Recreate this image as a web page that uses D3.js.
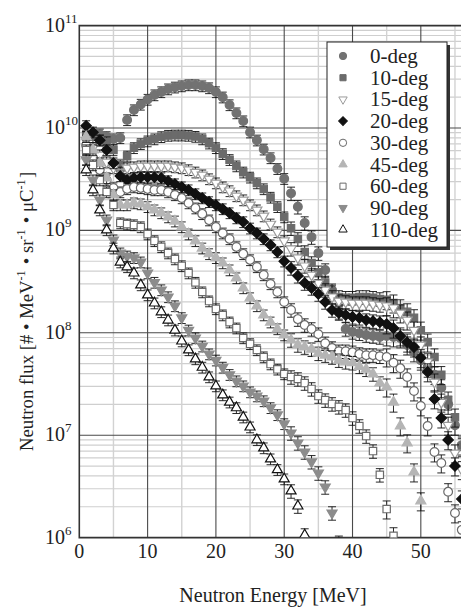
<!DOCTYPE html>
<html>
<head>
<meta charset="utf-8">
<script src="https://cdn.jsdelivr.net/npm/d3@7"></script>
<style>
    body { margin: 0; background: #fff; }
    svg { display: block; }
</style>
</head>
<body>
<div id="chart"></div>
<script>
// neutron energy bins [MeV]
const energy = [1, 2, 3, 4, 5, 6, 7, 8, 9, 10, 11, 12, 13, 14, 15, 16, 17, 18, 19, 20,
    21, 22, 23, 24, 25, 26, 27, 28, 29, 30, 31, 32, 33, 34, 35, 36, 37, 38, 39, 40,
    41, 42, 43, 44, 45, 46, 47, 48, 49, 50, 51, 52, 53, 54, 55, 56];

// flux [# / MeV / sr / uC] (null = no point)
const flux0 = [null, null, 8.7e9, 8.2e9, 7.8e9, 8.0e9, 1.2e10, 1.5e10, 1.7e10, 1.9e10,
    2.1e10, 2.25e10, 2.4e10, 2.5e10, 2.57e10, 2.63e10, 2.63e10, 2.57e10, 2.46e10, 2.25e10,
    2.0e10, 1.68e10, 1.4e10, 1.17e10, 9.1e9, 7.6e9, 6.2e9, 5.1e9, 4.0e9, 3.2e9,
    2.3e9, 1.7e9, 1.18e9, 8.6e8, 6.0e8, 4.1e8, 2.6e8, 1.6e8, 1.09e8, 1.02e8,
    9.9e7, 9.5e7, 9.3e7, 9.1e7, 9.3e7, 9.1e7, 8.9e7, 7.6e7, 6.5e7, 5.4e7,
    4.6e7, 3.9e7, 2.9e7, 2.0e7, 1.25e7, 8.0e6];
const flux10 = [8.5e9, 8.2e9, 7.6e9, 7.3e9, 6.1e9, 4.35e9, 5.3e9, 6.4e9, 7.0e9, 7.45e9,
    7.8e9, 8.2e9, 8.45e9, 8.5e9, 8.5e9, 8.45e9, 8.25e9, 7.8e9, 7.1e9, 6.4e9,
    5.6e9, 4.9e9, 4.25e9, 3.7e9, 3.3e9, 2.9e9, 2.54e9, 2.1e9, 1.7e9, 1.35e9,
    1.05e9, 8.25e8, 6.15e8, 4.8e8, 3.9e8, 3.1e8, 2.5e8, 2.24e8, 2.2e8, 2.2e8,
    2.24e8, 2.24e8, 2.2e8, 2.14e8, 2.1e8, 1.95e8, 1.75e8, 1.6e8, 1.4e8, 1.06e8,
    8.1e7, 5.8e7, 3.9e7, 2.2e7, 1.5e7, 7.7e6];
const flux15 = [7.6e9, 6.4e9, 5.45e9, 4.65e9, 4.07e9, 3.7e9, 4.07e9, 4.16e9, 4.25e9, 4.25e9,
    4.25e9, 4.25e9, 4.25e9, 4.16e9, 4.07e9, 3.9e9, 3.7e9, 3.47e9, 3.18e9, 2.9e9,
    2.65e9, 2.43e9, 2.17e9, 1.98e9, 1.77e9, 1.58e9, 1.38e9, 1.15e9, 9.65e8, 7.9e8,
    6.6e8, 5.4e8, 4.5e8, 3.67e8, 3.06e8, 2.62e8, 2.24e8, 2.04e8, 2.0e8, 1.95e8,
    1.95e8, 1.95e8, 1.91e8, 1.87e8, 1.83e8, 1.75e8, 1.56e8, 1.33e8, 1.06e8, 7.6e7,
    5.2e7, 3.3e7, 2.1e7, 1.25e7, 6.7e6, 4.6e6];
const flux20 = [1.05e10, 9.1e9, 7.6e9, 6.1e9, 4.55e9, 3.4e9, 3.1e9, 3.25e9, 3.3e9, 3.3e9,
    3.3e9, 3.25e9, 3.04e9, 2.84e9, 2.65e9, 2.48e9, 2.27e9, 2.07e9, 1.9e9, 1.77e9,
    1.62e9, 1.48e9, 1.32e9, 1.21e9, 1.05e9, 9.4e8, 8.25e8, 7.2e8, 6.15e8, 5.0e8,
    4.3e8, 3.6e8, 3.06e8, 2.74e8, 2.39e8, 2.0e8, 1.67e8, 1.56e8, 1.49e8, 1.43e8,
    1.4e8, 1.33e8, 1.3e8, 1.27e8, 1.22e8, 1.11e8, 9.3e7, 8.1e7, 7.25e7, 5.7e7,
    4.15e7, 2.26e7, 1.47e7, 9.0e6, 5.0e6, 2.38e6];
const flux30 = [6.8e9, 5.1e9, 3.9e9, 3.1e9, 2.6e9, 2.37e9, 2.54e9, 2.65e9, 2.6e9, 2.54e9,
    2.48e9, 2.48e9, 2.37e9, 2.22e9, 2.07e9, 1.85e9, 1.65e9, 1.45e9, 1.26e9, 1.08e9,
    9.4e8, 8.25e8, 6.9e8, 5.9e8, 5.15e8, 4.4e8, 3.67e8, 3.0e8, 2.5e8, 2.0e8,
    1.67e8, 1.36e8, 1.19e8, 1.09e8, 9.7e7, 7.9e7, 7.1e7, 6.6e7, 6.6e7, 6.45e7,
    6.2e7, 6.05e7, 6.05e7, 5.9e7, 5.8e7, 5.1e7, 4.5e7, 3.7e7, 2.7e7, 1.93e7,
    1.23e7, 6.85e6, 5.35e6, 2.8e6, 1.74e6, 1.19e6];
const flux45 = [8.2e9, 6.1e9, 4.55e9, 3.25e9, 2.22e9, 1.77e9, 1.77e9, 1.85e9, 1.81e9, 1.7e9,
    1.58e9, 1.48e9, 1.35e9, 1.23e9, 1.08e9, 9.2e8, 7.9e8, 6.7e8, 5.9e8, 5.4e8,
    4.8e8, 4.1e8, 3.43e8, 2.74e8, 2.19e8, 1.83e8, 1.49e8, 1.27e8, 1.09e8, 9.5e7,
    8.5e7, 7.6e7, 7.25e7, 6.9e7, 6.3e7, 6.05e7, 5.8e7, 5.4e7, 5.2e7, 5.1e7,
    4.7e7, 4.4e7, 3.96e7, 3.23e7, 2.95e7, 2.1e7, 1.23e7, 8.4e6, 4.37e6, 2.28e6];
const flux60 = [6.1e9, 4.35e9, 3.1e9, 2.37e9, 1.77e9, 1.18e9, 1.15e9, 1.13e9, 1.08e9, 9.2e8,
    7.9e8, 6.9e8, 6.0e8, 5.25e8, 4.5e8, 3.83e8, 3.1e8, 2.5e8, 2.04e8, 1.71e8,
    1.49e8, 1.27e8, 1.11e8, 8.9e7, 7.8e7, 6.8e7, 5.8e7, 4.95e7, 4.4e7, 3.96e7,
    3.7e7, 3.54e7, 3.23e7, 2.83e7, 2.41e7, 2.2e7, 2.02e7, 1.89e7, 1.76e7, 1.47e7,
    1.23e7, 9.8e6, 7.0e6, 4.1e6, 1.9e6, 1.04e6];
const flux90 = [4.9e9, 3.1e9, 1.98e9, 1.26e9, 8.05e8, 6.0e8, 5.6e8, 5.4e8, 4.9e8, 3.83e8,
    3.1e8, 2.62e8, 2.24e8, 1.83e8, 1.4e8, 1.06e8, 8.9e7, 7.4e7, 6.2e7, 5.4e7,
    4.6e7, 3.9e7, 3.38e7, 3.02e7, 2.64e7, 2.41e7, 2.16e7, 1.85e7, 1.58e7, 1.29e7,
    1.05e7, 8.4e6, 6.85e6, 5.5e6, 4.27e6, 3.12e6, 1.74e6, 9.0e5];
const flux110 = [3.9e9, 2.48e9, 1.58e9, 1.01e9, 6.7e8, 4.9e8, 4.4e8, 3.83e8, 2.93e8, 2.34e8,
    1.95e8, 1.6e8, 1.33e8, 1.06e8, 8.3e7, 6.8e7, 5.55e7, 4.6e7, 3.7e7, 3.02e7,
    2.47e7, 2.1e7, 1.85e7, 1.5e7, 1.2e7, 9.0e6, 7.5e6, 5.85e6, 4.6e6, 3.73e6,
    2.85e6, 2.03e6, 1.06e6];

// relative error per energy bin
const relErr = [0.12, 0.12, 0.12, 0.12, 0.12, 0.12, 0.12, 0.12, 0.12, 0.12,
    0.12, 0.12, 0.12, 0.12, 0.12, 0.12, 0.12, 0.12, 0.12, 0.12,
    0.12, 0.12, 0.12, 0.12, 0.12, 0.12, 0.12, 0.12, 0.12, 0.12,
    0.15, 0.15, 0.15, 0.15, 0.15, 0.15, 0.15, 0.15, 0.15, 0.15,
    0.15, 0.15, 0.15, 0.15, 0.2, 0.2, 0.2, 0.2, 0.2, 0.2,
    0.2, 0.2, 0.2, 0.2, 0.2, 0.2];

const seriesNames = ["0-deg", "10-deg", "15-deg", "20-deg", "30-deg", "45-deg", "60-deg", "90-deg", "110-deg"];
const seriesFlux = [flux0, flux10, flux15, flux20, flux30, flux45, flux60, flux90, flux110];

const xTicks = [0, 10, 20, 30, 40, 50];
const xMinor = [5, 15, 25, 35, 45, 55];
const yDecades = [6, 7, 8, 9, 10, 11];

const styles = [
    {shape: "circle", fill: "#727272", stroke: "#727272"},
    {shape: "square", fill: "#6b6b6b", stroke: "#6b6b6b"},
    {shape: "tridown", fill: "#fff", stroke: "#9a9a9a"},
    {shape: "diamond", fill: "#111", stroke: "#111"},
    {shape: "circle", fill: "#fff", stroke: "#6a6a6a"},
    {shape: "triup", fill: "#b5b5b5", stroke: "#b5b5b5"},
    {shape: "square", fill: "#fff", stroke: "#6a6a6a"},
    {shape: "tridown", fill: "#8c8c8c", stroke: "#8c8c8c"},
    {shape: "triup", fill: "#fff", stroke: "#111"}
];

const FONT = "'Liberation Serif', 'DejaVu Serif', serif";
const W = 461, H = 608;
const plot = {left: 79.3, right: 461.8, top: 25.6, bottom: 537.6};

const x = d3.scaleLinear().domain([0, 56]).range([plot.left, plot.right]);
const y = d3.scaleLog().domain([1e6, 1e11]).range([plot.bottom, plot.top]);

const svg = d3.select("#chart").append("svg")
    .attr("width", W)
    .attr("height", H)
    .attr("font-family", FONT);

svg.append("defs").append("clipPath")
    .attr("id", "clip")
    .append("rect")
    .attr("x", plot.left)
    .attr("y", plot.top)
    .attr("width", plot.right - plot.left)
    .attr("height", plot.bottom - plot.top);

// grid
let grid = svg.append("g");
let minorY = [];
yDecades.slice(0, -1).forEach(p => {
    for (let k = 2; k <= 9; k++) minorY.push(k * Math.pow(10, p));
});
grid.selectAll(".my").data(minorY).enter().append("line")
    .attr("x1", plot.left).attr("x2", W)
    .attr("y1", d => y(d)).attr("y2", d => y(d))
    .attr("stroke", "#cfcfcf").attr("stroke-width", 1.2);
grid.selectAll(".mx").data(xMinor).enter().append("line")
    .attr("x1", d => x(d)).attr("x2", d => x(d))
    .attr("y1", plot.top).attr("y2", plot.bottom)
    .attr("stroke", "#d2d2d2").attr("stroke-width", 1.4);
grid.selectAll(".My").data(yDecades.slice(1, -1)).enter().append("line")
    .attr("x1", plot.left).attr("x2", W)
    .attr("y1", d => y(Math.pow(10, d))).attr("y2", d => y(Math.pow(10, d)))
    .attr("stroke", "#4a4a4a").attr("stroke-width", 1.1);
grid.selectAll(".Mx").data(xTicks.slice(1)).enter().append("line")
    .attr("x1", d => x(d)).attr("x2", d => x(d))
    .attr("y1", plot.top).attr("y2", plot.bottom)
    .attr("stroke", "#4a4a4a").attr("stroke-width", 1.1);

// frame
svg.append("path")
    .attr("d", `M${W},${plot.top}H${plot.left}V${plot.bottom}H${W}`)
    .attr("fill", "none")
    .attr("stroke", "#333")
    .attr("stroke-width", 1.6);

function symbolPath(shape, s) {
    if (shape === "circle") return d3.symbol().type(d3.symbolCircle).size(60 * s)();
    if (shape === "square") return d3.symbol().type(d3.symbolSquare).size(54 * s)();
    if (shape === "diamond") return d3.symbol().type(d3.symbolSquare).size(54 * s)();
    return d3.symbol().type(d3.symbolTriangle).size(44 * s)();
}

function symbolRotate(shape) {
    if (shape === "diamond") return " rotate(45)";
    if (shape === "tridown") return " rotate(180)";
    return "";
}

// data
let marks = svg.append("g").attr("clip-path", "url(#clip)");
seriesFlux.forEach((flux, i) => {
    let st = styles[i];
    let pts = flux.map((v, j) => ({e: energy[j], v: v, err: relErr[j]}))
        .filter(d => d.v !== null);
    let g = marks.append("g").attr("class", "series");

    let eb = g.selectAll(".eb").data(pts).enter().append("g")
        .attr("stroke", "#111").attr("stroke-width", 0.9);
    eb.append("line")
        .attr("x1", d => x(d.e)).attr("x2", d => x(d.e))
        .attr("y1", d => y(d.v * (1 - d.err))).attr("y2", d => y(d.v * (1 + d.err)));
    eb.append("line")
        .attr("x1", d => x(d.e) - 4).attr("x2", d => x(d.e) + 4)
        .attr("y1", d => y(d.v * (1 - d.err))).attr("y2", d => y(d.v * (1 - d.err)));
    eb.append("line")
        .attr("x1", d => x(d.e) - 4).attr("x2", d => x(d.e) + 4)
        .attr("y1", d => y(d.v * (1 + d.err))).attr("y2", d => y(d.v * (1 + d.err)));

    g.selectAll(".pt").data(pts).enter().append("path")
        .attr("d", symbolPath(st.shape, 1))
        .attr("transform", d => "translate(" + x(d.e) + "," + y(d.v) + ")" + symbolRotate(st.shape))
        .attr("fill", st.fill)
        .attr("stroke", st.stroke)
        .attr("stroke-width", 1.2);
});

// tick labels
svg.selectAll(".xt").data(xTicks).enter().append("text")
    .attr("x", d => x(d))
    .attr("y", 558)
    .attr("text-anchor", "middle")
    .attr("font-size", 20)
    .attr("fill", "#222")
    .text(d => d);

let yt = svg.selectAll(".yt").data(yDecades).enter().append("text")
    .attr("x", 45)
    .attr("y", d => y(Math.pow(10, d)) + 6)
    .attr("font-size", 20)
    .attr("fill", "#222");
yt.append("tspan").text("10");
yt.append("tspan").attr("dy", -9).attr("font-size", 13).text(d => d);

// axis titles
svg.append("text")
    .attr("x", 273)
    .attr("y", 602)
    .attr("text-anchor", "middle")
    .attr("font-size", 20)
    .attr("fill", "#222")
    .text("Neutron Energy [MeV]");

// y title starts at the bottom ("N") and runs upward
let yTitle = svg.append("text")
    .attr("transform", "translate(33,451) rotate(-90)")
    .attr("font-size", 18.7)
    .attr("fill", "#222");
const titleParts = [["Neutron flux [# \u2022 MeV", "-1"], [" \u2022 sr", "-1"], [" \u2022 \u03bcC", "-1"], ["]", null]];
titleParts.forEach(p => {
    yTitle.append("tspan").text(p[0]);
    if (p[1]) {
        yTitle.append("tspan").attr("dy", -8).attr("font-size", 12).text(p[1]);
        yTitle.append("tspan").attr("dy", 8).text("\u200a");
    }
});

// legend
const lg = {x: 327, y: 42, w: 120, h: 205, row: 21.7};
let legend = svg.append("g");
legend.append("rect")
    .attr("x", lg.x + 3).attr("y", lg.y + 3)
    .attr("width", lg.w).attr("height", lg.h)
    .attr("fill", "#333");
legend.append("rect")
    .attr("x", lg.x).attr("y", lg.y)
    .attr("width", lg.w).attr("height", lg.h)
    .attr("fill", "#fff")
    .attr("stroke", "#222")
    .attr("stroke-width", 1);
seriesNames.forEach((name, i) => {
    let st = styles[i];
    let cy = lg.y + 14 + i * lg.row;
    legend.append("path")
        .attr("d", symbolPath(st.shape, 0.7))
        .attr("transform", "translate(" + (lg.x + 16) + "," + cy + ")" + symbolRotate(st.shape))
        .attr("fill", st.fill)
        .attr("stroke", st.stroke)
        .attr("stroke-width", 1);
    legend.append("text")
        .attr("x", lg.x + 43)
        .attr("y", cy + 7)
        .attr("font-size", 21)
        .attr("fill", "#222")
        .text(name);
});
</script>
</body>
</html>
